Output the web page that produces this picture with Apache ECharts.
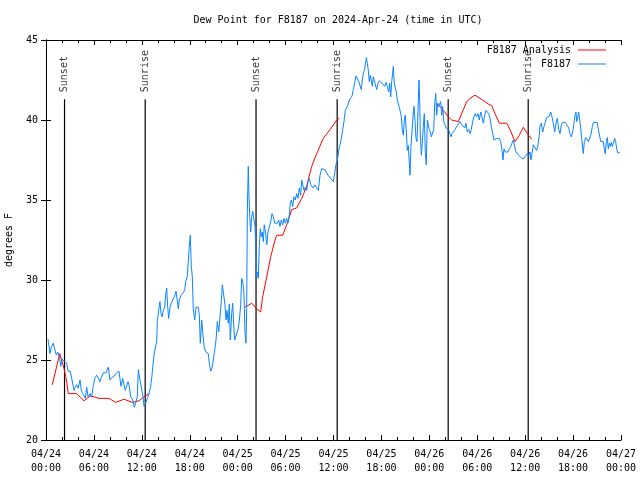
<!DOCTYPE html>
<html>
<head>
<meta charset="utf-8">
<script src="https://cdn.jsdelivr.net/npm/echarts@6/dist/echarts.min.js"></script>
<style>html,body{margin:0;padding:0;background:#fff;}#c{width:640px;height:480px;}</style>
</head>
<body>
<div id="c"></div>
<script>
// Hours since 2024-04-24 00:00 UTC
const dayLabels = ['04/24', '04/25', '04/26', '04/27'];
const yTicks = [20, 25, 30, 35, 40, 45];

const obsHours = [
0.25,0.50,0.66,0.91,1.09,1.29,1.47,1.72,1.84,2.00,2.25,2.59,2.75,2.88,3.04,3.26,3.51,3.67,3.84,4.04,
4.26,4.42,4.60,4.92,5.10,5.26,5.51,5.72,5.92,6.14,6.35,6.55,6.76,6.92,7.18,7.51,7.80,8.01,8.23,8.51,
8.85,9.14,9.39,9.60,9.77,9.93,10.10,10.27,10.43,10.61,10.86,11.06,11.27,11.43,11.56,11.77,11.93,12.15,12.27,12.48,
12.68,12.90,13.11,13.24,13.36,13.52,13.69,13.86,13.94,14.11,14.27,14.40,14.53,14.69,14.86,14.99,15.11,15.24,15.36,15.53,
15.69,15.86,16.07,16.28,16.44,16.57,16.69,16.90,17.19,17.37,17.49,17.69,17.82,17.94,18.07,18.19,18.32,18.44,18.62,18.78,
19.07,19.20,19.32,19.50,19.66,19.82,20.03,20.32,20.45,20.62,20.79,20.95,21.12,21.29,21.45,21.63,21.79,21.95,22.08,22.29,
22.41,22.54,22.66,22.83,22.95,23.08,23.25,23.38,23.50,23.63,23.88,24.04,24.20,24.38,24.50,24.67,24.79,24.92,25.04,25.13,
25.21,25.33,25.42,25.51,25.63,25.76,25.88,26.05,26.17,26.30,26.38,26.51,26.58,26.71,26.83,26.96,27.08,27.21,27.33,27.51,
27.64,27.80,27.96,28.14,28.30,28.46,28.64,28.80,28.96,29.14,29.30,29.46,29.64,29.80,29.96,30.14,30.30,30.47,30.59,30.72,
30.89,31.05,31.22,31.39,31.55,31.72,31.89,32.02,32.14,32.31,32.47,32.64,32.81,32.97,33.15,33.31,33.47,33.68,33.90,34.10,
34.31,34.52,34.72,34.94,35.15,35.31,35.47,35.65,35.81,35.98,36.15,36.31,36.48,36.65,36.81,36.98,37.15,37.31,37.48,37.65,
37.82,37.98,38.15,38.32,38.48,38.65,38.82,38.98,39.16,39.32,39.48,39.61,39.73,39.86,39.98,40.11,40.24,40.36,40.48,40.61,
40.73,40.86,40.98,41.11,41.23,41.41,41.57,41.74,41.91,42.07,42.24,42.41,42.57,42.74,42.91,43.04,43.16,43.29,43.41,43.49,
43.61,43.74,43.86,43.99,44.16,44.33,44.49,44.61,44.74,44.87,44.99,45.12,45.24,45.37,45.49,45.58,45.70,45.83,45.95,46.08,
46.21,46.33,46.46,46.58,46.71,46.79,46.87,47.00,47.12,47.25,47.37,47.50,47.62,47.75,47.87,48.00,48.12,48.25,48.42,48.55,
48.67,48.80,48.92,49.05,49.17,49.30,49.42,49.55,49.67,49.80,49.96,50.09,50.25,50.42,50.59,50.71,50.84,51.00,51.21,51.43,
51.63,51.84,52.05,52.25,52.43,52.59,52.75,52.93,53.09,53.25,53.43,53.59,53.76,53.93,54.09,54.26,54.43,54.59,54.76,54.93,
55.10,55.26,55.43,55.60,55.76,55.93,56.10,56.26,56.43,56.60,56.76,56.94,57.10,57.22,57.35,57.51,57.69,57.85,58.01,58.19,
58.35,58.51,58.69,58.85,59.02,59.19,59.35,59.56,59.85,60.10,60.27,60.44,60.60,60.73,60.85,61.02,61.23,61.44,61.61,61.77,
61.85,62.02,62.19,62.36,62.52,62.70,62.86,63.02,63.20,63.36,63.52,63.70,63.86,64.02,64.20,64.36,64.53,64.70,65.03,65.28,
65.45,65.61,65.78,65.95,66.11,66.24,66.36,66.45,66.58,66.70,66.83,66.95,67.08,67.20,67.28,67.41,67.58,67.74,67.91,68.08,
68.24,68.41,68.53,68.78,69.03,69.16,69.33,69.46,69.62,69.78,69.91,70.03,70.16,70.28,70.41,70.54,70.66,70.79,70.91,71.04,
71.21,71.33,71.46,71.58,71.87
];
const obsValues = [
26.3,25.4,25.8,26.05,26.1,25.3,25.5,25.1,24.6,25.05,25.05,24.8,24.3,24.4,24.3,23.75,23.1,23.3,23.45,23.25,
23.75,23.1,22.9,22.6,23.3,22.7,22.9,22.7,23.4,23.9,24.05,24.0,23.65,23.9,24.2,24.2,24.55,23.75,23.9,24.0,
24.2,24.3,23.35,23.85,23.45,23.1,23.2,23.65,23.35,22.7,22.5,22.05,22.4,22.7,24.4,23.75,23.3,22.7,22.1,22.3,
22.6,22.9,23.35,23.9,24.5,25.3,25.75,26.15,27.4,28.1,28.65,27.9,27.7,28.1,28.3,29.1,29.5,28.3,27.6,28.3,
28.55,28.75,28.95,29.3,29.2,28.2,28.75,29.05,29.2,29.4,29.9,30.2,30.25,32.1,32.8,30.9,30.2,28.2,27.5,28.3,
28.3,27.8,26.05,27.5,26.55,25.75,25.5,25.4,24.8,24.3,24.5,25.0,25.6,26.25,27.4,26.75,27.7,28.65,29.7,29.7,
28.45,27.5,28.1,27.3,28.5,26.25,27.9,28.55,27.2,26.25,26.25,26.9,27.4,28.45,30.1,29.8,29.15,26.75,26.05,28.3,
34.3,37.1,35.2,33.95,33.0,33.95,34.3,34.3,33.35,31.65,30.2,30.5,30.1,32.1,33.2,32.7,33.0,32.4,33.45,32.9,
32.2,33.0,33.0,33.65,34.15,33.95,33.55,33.45,33.55,33.75,33.35,33.75,33.45,33.85,33.55,33.85,33.55,34.05,34.8,35.0,
34.6,35.2,35.0,35.4,35.1,35.75,35.3,36.25,36.35,35.6,35.8,35.6,36.15,36.35,35.95,36.05,35.75,35.95,35.85,35.6,
36.55,36.95,37.05,36.9,36.95,36.55,36.65,36.35,36.45,36.15,36.05,37.2,37.5,38.1,38.45,38.85,39.4,39.9,40.6,40.6,
40.95,41.25,41.35,41.5,41.9,42.0,42.75,42.8,42.4,42.5,41.9,42.5,42.9,43.1,43.45,43.9,43.55,43.1,42.4,42.8,
42.5,42.1,42.7,42.6,42.75,41.9,42.3,42.45,42.4,42.3,42.4,42.1,42.35,42.1,41.75,42.3,41.45,42.4,42.95,43.35,
42.3,42.0,41.75,41.25,41.15,40.6,40.2,39.4,39.05,40.0,40.3,39.25,38.1,38.4,37.3,36.55,38.35,39.25,40.2,40.85,
39.9,38.85,38.65,40.6,42.5,41.25,39.15,37.8,38.55,39.6,40.4,37.9,37.2,40.0,39.7,39.4,39.25,38.95,38.85,39.4,
40.95,41.65,40.3,41.05,40.85,40.95,41.15,40.3,40.85,39.9,39.7,39.5,39.6,39.4,39.3,38.95,39.15,39.2,39.4,39.6,
39.75,39.9,39.7,39.8,39.5,39.8,39.25,39.4,39.15,39.4,39.9,40.2,40.4,40.2,40.4,40.0,40.5,40.2,39.8,40.3,
40.6,40.6,40.4,40.1,39.6,39.15,38.75,38.65,38.85,38.75,38.85,38.65,38.1,37.5,38.2,38.0,38.1,38.0,38.2,38.35,
38.55,38.75,38.35,38.0,37.9,37.8,37.7,37.6,37.6,37.7,37.9,37.75,38.0,37.5,37.9,38.45,38.35,38.1,38.45,39.05,
39.6,39.8,39.25,39.6,39.5,40.15,40.05,40.25,40.5,40.2,39.8,39.25,39.8,40.1,39.4,39.15,39.7,39.85,39.85,39.75,
39.5,39.15,38.95,39.25,39.8,40.3,40.5,39.9,40.2,40.5,40.0,39.5,38.85,38.2,37.9,38.65,38.9,38.85,38.65,38.85,
39.1,39.6,39.85,39.85,39.85,39.4,39.0,38.65,38.75,38.65,38.2,37.9,38.65,38.9,38.2,38.55,38.35,38.6,38.35,38.55,
38.85,38.65,38.2,37.95,37.95
];

const anaHours = [
0.79,1.72,2.25,2.59,2.79,3.84,4.76,5.51,6.01,6.64,7.89,8.73,9.77,10.81,11.65,12.27,12.90,
18.0,
24.92,25.76,26.38,26.88,27.13,27.64,28.14,28.67,28.89,29.64,30.14,30.77,31.39,32.02,32.64,33.27,33.90,34.72,35.56,36.40,36.73,
42.0,
48.83,49.34,49.75,50.38,50.80,51.63,51.84,52.68,53.09,53.72,54.34,54.97,55.38,55.81,56.22,56.76,57.69,58.10,58.73,59.27,59.77,60.27,60.82
];
const anaValues = [
23.45,25.4,24.5,23.65,22.9,22.9,22.45,22.75,22.7,22.6,22.6,22.35,22.55,22.35,22.45,22.7,22.9,
null,
28.3,28.55,28.2,28.0,28.95,30.2,31.45,32.5,32.8,32.8,33.45,34.4,34.5,35.1,35.85,37.1,37.9,38.85,39.4,40.0,40.1,
null,
41.0,40.85,40.6,40.2,40.0,39.9,39.9,41.15,41.35,41.55,41.35,41.15,41.0,40.9,40.4,39.8,39.8,39.4,38.65,39.05,39.55,39.15,38.8
];

const eventNames = ['Sunset', 'Sunrise', 'Sunset', 'Sunrise', 'Sunset', 'Sunrise'];
const eventHours = [2.32, 12.42, 26.30, 36.46, 50.36, 60.38];
const eventLineTop = 41.3;

const FONT = 'DejaVu Sans Mono';
const zip = (xs, ys) => xs.map((x, i) => [x, ys[i]]);

const eventLineData = [];
eventHours.forEach((h) => {
  eventLineData.push([h, 20], [h, eventLineTop], [h, null]);
});

const chart = echarts.init(document.getElementById('c'), null, { renderer: 'canvas' });
const axisCommon = {
  type: 'value', min: 0, max: 72, interval: 6,
  axisLine: { show: true, lineStyle: { color: '#000', width: 1 } },
  axisTick: { show: true, inside: true, length: 5, lineStyle: { color: '#000' } },
  minorTick: { show: true, splitNumber: 3, length: 3, lineStyle: { color: '#000' } },
  splitLine: { show: false }
};
chart.setOption({
  animation: false,
  backgroundColor: '#fff',
  title: {
    text: 'Dew Point for F8187 on 2024-Apr-24 (time in UTC)',
    left: 333, top: 10, textAlign: 'center',
    textStyle: { fontFamily: FONT, fontSize: 10, fontWeight: 'normal', color: '#000' }
  },
  legend: {
    orient: 'vertical', right: 29, top: 39, align: 'right',
    itemWidth: 28, itemHeight: 1, itemGap: 2,
    data: [{ name: 'F8187 Analysis', icon: 'rect' }, { name: 'F8187', icon: 'rect' }],
    textStyle: { fontFamily: FONT, fontSize: 10, color: '#000', lineHeight: 12, padding: [0, 2, 0, 0] }
  },
  grid: { left: 46, right: 19, top: 40, bottom: 40, show: false, containLabel: false, outerBoundsMode: 'none' },
  xAxis: [
    Object.assign({}, axisCommon, {
      position: 'bottom',
      axisLabel: {
        fontFamily: FONT, fontSize: 10, color: '#000', margin: 7, lineHeight: 14,
        formatter: (v) => {
          const d = Math.floor(v / 24);
          const h = v % 24;
          return dayLabels[d] + '\n' + (h < 10 ? '0' : '') + h + ':00';
        }
      }
    }),
    Object.assign({}, axisCommon, { position: 'top', axisLabel: { show: false } })
  ],
  yAxis: [
    {
      type: 'value', min: 20, max: 45, interval: 5, position: 'left',
      name: 'degrees F', nameLocation: 'middle', nameGap: 32, nameRotate: 90,
      nameTextStyle: { fontFamily: FONT, fontSize: 10, color: '#000' },
      axisLine: { show: true, lineStyle: { color: '#000' } },
      axisTick: { show: true, inside: true, length: 5, lineStyle: { color: '#000' } },
      axisLabel: { fontFamily: FONT, fontSize: 10, color: '#000', margin: 8,
        formatter: (v) => yTicks.includes(v) ? String(v) : '' },
      splitLine: { show: false }
    },
    {
      type: 'value', min: 20, max: 45, interval: 5, position: 'right',
      axisLine: { show: true, lineStyle: { color: '#000' } },
      axisTick: { show: true, inside: true, length: 5, lineStyle: { color: '#000' } },
      axisLabel: { show: false },
      splitLine: { show: false }
    }
  ],
  series: [
    {
      name: 'events', type: 'line', data: eventLineData, symbol: 'none',
      lineStyle: { color: '#000', width: 1.2 }, connectNulls: false, silent: true, z: 1
    },
    {
      name: 'eventLabels', type: 'scatter', symbolSize: 0, silent: true,
      data: eventHours.map((h, i) => [h, eventLineTop, eventNames[i]]),
      label: {
        show: true, position: 'top', distance: 7, rotate: 90,
        align: 'left', verticalAlign: 'middle',
        formatter: (p) => p.data[2],
        fontFamily: FONT, fontSize: 10, color: '#000'
      }
    },
    {
      name: 'F8187 Analysis', type: 'line', data: zip(anaHours, anaValues),
      symbol: 'none', connectNulls: false, color: '#ff0000',
      lineStyle: { color: '#ff0000', width: 1 }, z: 2
    },
    {
      name: 'F8187', type: 'line', data: zip(obsHours, obsValues),
      symbol: 'none', color: '#0a84ff',
      lineStyle: { color: '#0a84ff', width: 1 }, z: 3
    }
  ]
});
</script>
</body>
</html>
